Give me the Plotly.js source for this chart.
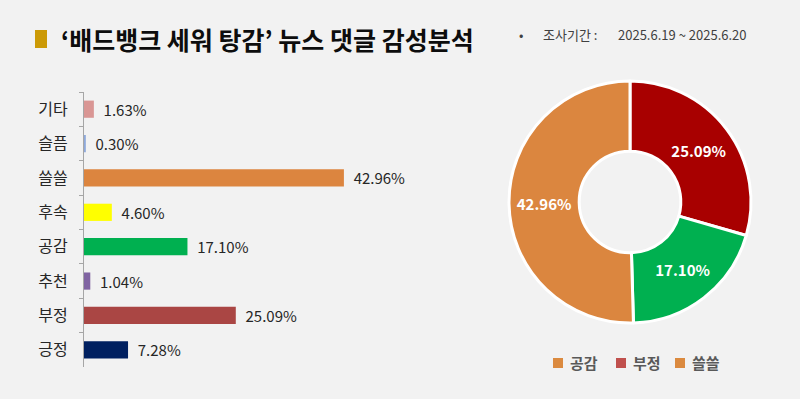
<!DOCTYPE html>
<html>
<head>
<meta charset="utf-8">
<script src="https://cdn.plot.ly/plotly-3.0.1.min.js"></script>
<style>
html,body{margin:0;padding:0;background:#F2F2F2;}
#chart{width:800px;height:399px;}
</style>
</head>
<body>
<div id="chart"></div>
<script>
// ---- data ----
const barCategories = ['기타', '슬픔', '쓸쓸', '후속', '공감', '추천', '부정', '긍정'];
const barValues = [1.63, 0.30, 42.96, 4.60, 17.10, 1.04, 25.09, 7.28];
const barColors = ['#D99694', '#8EA9DB', '#DC853F', '#FFFF00', '#00B050', '#8064A2', '#AA4644', '#002060'];

const pieLabels = ['부정', '공감', '쓸쓸'];
const pieValues = [25.09, 17.10, 42.96];
const pieColors = ['#A80000', '#00B050', '#DB863F'];

const legendLabels = ['공감', '부정', '쓸쓸'];
const legendColors = ['#DB8A3F', '#C0504D', '#DB8A3F'];

const titleText = '‘배드뱅크 세워 탕감’ 뉴스 댓글 감성분석';
const periodLabel = '조사기간 :';
const periodText = '2025.6.19 ~ 2025.6.20';

// ---- helpers ----
const W = 800, H = 399;
const px = x => x / W;
const py = y => 1 - y / H;
const FONT = '"Noto Sans CJK KR", "Noto Sans", sans-serif';

const barTrace = {
  type: 'bar',
  orientation: 'h',
  y: barCategories,
  x: barValues,
  marker: {color: barColors, line: {width: 0}},
  texttemplate: '\u00a0\u00a0%{x:.2f}%',
  textposition: 'outside',
  constraintext: 'none',
  textfont: {family: FONT, size: 15, color: '#262626'},
  cliponaxis: false,
  hoverinfo: 'skip',
  showlegend: false,
  xaxis: 'x', yaxis: 'y'
};

const pieTrace = {
  type: 'pie',
  labels: pieLabels,
  values: pieValues,
  text: pieValues.map(v => v.toFixed(2) + '%'),
  textinfo: 'text',
  textposition: 'inside',
  insidetextorientation: 'horizontal',
  textfont: {family: FONT, size: 15, color: '#FFFFFF', weight: 'bold'},
  hole: 0.42,
  sort: false,
  direction: 'clockwise',
  rotation: 0,
  marker: {colors: pieColors, line: {color: '#FFFFFF', width: 3}},
  domain: {x: [px(509), px(751)], y: [py(323), py(81)]},
  showlegend: false,
  hoverinfo: 'skip'
};

const shapes = [
  {type: 'rect', xref: 'paper', yref: 'paper', x0: px(35), x1: px(47), y0: py(48), y1: py(30),
   fillcolor: '#CC9A06', line: {width: 0}}
];
const annotations = [
  {xref: 'paper', yref: 'paper', x: px(59), y: py(39), xanchor: 'left', yanchor: 'middle',
   text: '<b>' + titleText + '</b>', showarrow: false,
   font: {family: FONT, size: 25, color: '#0D0D0D'}},
  {xref: 'paper', yref: 'paper', x: px(517), y: py(34), xanchor: 'left', yanchor: 'middle',
   text: '•', showarrow: false, font: {family: FONT, size: 13, color: '#404040'}},
  {xref: 'paper', yref: 'paper', x: px(541), y: py(34), xanchor: 'left', yanchor: 'middle',
   text: periodLabel, showarrow: false, font: {family: FONT, size: 13, color: '#404040'}},
  {xref: 'paper', yref: 'paper', x: px(616), y: py(34), xanchor: 'left', yanchor: 'middle',
   text: periodText, showarrow: false, font: {family: FONT, size: 13, color: '#404040'}}
];

const legendX = [553, 616, 675];
legendLabels.forEach((lab, i) => {
  shapes.push({type: 'rect', xref: 'paper', yref: 'paper',
    x0: px(legendX[i]), x1: px(legendX[i] + 10), y0: py(368), y1: py(358),
    fillcolor: legendColors[i], line: {width: 0}});
  annotations.push({xref: 'paper', yref: 'paper', x: px(legendX[i] + 15), y: py(362.5),
    xanchor: 'left', yanchor: 'middle', text: '<b>' + lab + '</b>', showarrow: false,
    font: {family: FONT, size: 15, color: '#595959'}});
});

const layout = {
  width: W, height: H,
  margin: {l: 0, r: 0, t: 0, b: 0, pad: 0},
  paper_bgcolor: '#F2F2F2',
  plot_bgcolor: 'rgba(0,0,0,0)',
  font: {family: FONT},
  showlegend: false,
  bargap: 0.5,
  xaxis: {
    domain: [px(84), px(447)],
    range: [0, 60],
    visible: false,
    fixedrange: true
  },
  yaxis: {
    domain: [py(367), py(92)],
    type: 'category',
    autorange: 'reversed',
    showline: true, linecolor: '#A6A6A6', linewidth: 1,
    ticks: 'outside', tickson: 'boundaries', ticklen: 4, tickcolor: '#A6A6A6',
    showgrid: false, zeroline: false,
    ticklabelstandoff: 12,
    tickfont: {family: FONT, size: 16, color: '#262626'},
    fixedrange: true
  },
  shapes: shapes,
  annotations: annotations
};

Plotly.newPlot('chart', [barTrace, pieTrace], layout, {displayModeBar: false, staticPlot: true});
</script>
</body>
</html>
